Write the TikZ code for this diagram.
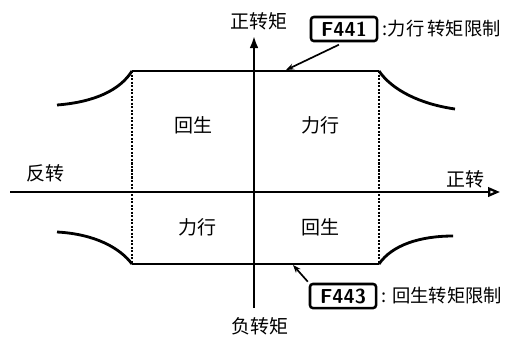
\documentclass[tikz,border=0pt]{standalone}
\usepackage{fontspec}
\newfontfamily\cjk{Noto Sans CJK SC}
\usetikzlibrary{arrows.meta, positioning}

\begin{document}
\begin{tikzpicture}[
  x=0.025cm, y=-0.025cm,
  lbl/.style={font=\cjk\fontsize{13.5}{15}\selectfont, inner sep=1pt},
  note/.style={font=\cjk\fontsize{13}{15}\selectfont, inner sep=1pt},
  code/.style={draw, line width=1.8pt, rounded corners=2pt, font=\sffamily\bfseries\Large, minimum width=1.65cm, minimum height=0.6cm, inner sep=1pt},
  limit/.style={line width=2pt},
  bound/.style={densely dotted, line width=1.5pt},
  axis/.style={line width=1.6pt},
  arr/.style={-{Stealth[length=2mm]}, line width=1.2pt}
]
\useasboundingbox (0,0) rectangle (510,338);
% corners of the limit box
\coordinate (tl) at (132,71);
\coordinate (tr) at (379,71);
\coordinate (bl) at (132,264);
\coordinate (br) at (379,264);
% axes
\coordinate (xs) at (10,192);
\coordinate (xe) at (500,192);
\coordinate (ys) at (254,308);
\coordinate (ye) at (254,36);
\draw[axis, -{Triangle[open, length=3mm, width=2.4mm]}] (xs) -- (xe);
\draw[axis, -{Latex[length=3mm, width=2.2mm]}] (ys) -- (ye);

\draw[bound] (tl) -- (bl);
\draw[bound] (tr) -- (br);
\draw[limit] (tl) -- (tr);
\draw[limit] (bl) -- (br);
% curved ends
\coordinate (c1) at (57,105);
\coordinate (c2) at (455,109);
\coordinate (c3) at (57,232);
\coordinate (c4) at (453,236);
\draw[limit] (c1) .. controls (95,102) and (120,90) .. (tl);
\draw[limit] (tr) .. controls (392,90) and (420,104) .. (c2);
\draw[limit] (c3) .. controls (95,234) and (120,248) .. (bl);
\draw[limit] (br) .. controls (392,245) and (420,236) .. (c4);

% axis labels
\node[lbl] (ytop) at (259,21) {正转矩};
\node[lbl] (ybot) at (260,326) {负转矩};
\node[lbl] (rev) at (45,173) {反转};
\node[lbl] (fwd) at (465,179) {正转};

% quadrants
\node[lbl] (q2) at (193,125) {回生};
\node[lbl] (q1) at (320,125) {力行};
\node[lbl] (q3) at (197,227) {力行};
\node[lbl] (q4) at (320,227) {回生};

% limit settings
\node[code] (f441) at (344,29) {F441};
\node[note, right=2pt of f441] (t441) {:力行\,转矩限制};
\node[code] (f443) at (343,296) {F443};
\node[note, right=2pt of f443] (t443) {: 回生转矩限制};
\coordinate (p1) at (286,70);
\coordinate (p2) at (293,265);
\draw[arr, shorten <=4pt] (f441.south) -- (p1);
\draw[arr, shorten <=1pt] (f443.north west) -- (p2);
\end{tikzpicture}
\end{document}
